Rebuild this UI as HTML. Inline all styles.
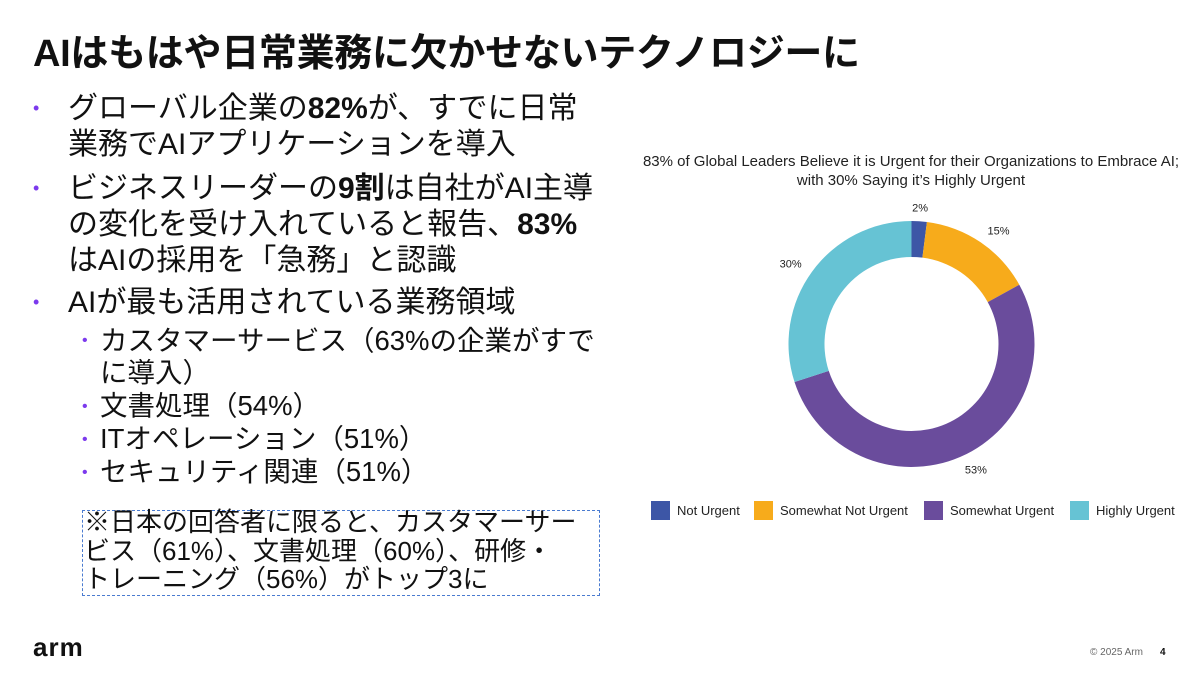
<!DOCTYPE html>
<html><head><meta charset="utf-8"><style>
body{margin:0;width:1200px;height:675px;background:#fff;position:relative;overflow:hidden;font-family:"Liberation Sans","Noto Sans CJK JP",sans-serif;color:#111}
.a{position:absolute;white-space:nowrap}
.t{font-size:38px;font-weight:bold;left:33px;top:22px;letter-spacing:-0.3px}
.l{font-size:30px;left:68px;line-height:36px}
.b{position:absolute;left:33px;font-size:18px;color:#7c3aed}
.s{font-size:27.5px;left:100px;line-height:32px}
.sb{position:absolute;left:82px;font-size:16px;color:#7c3aed}
</style></head><body>
<div class="a t">AIはもはや日常業務に欠かせないテクノロジーに</div>
<div class="b" style="top:98px">•</div>
<div class="a l" style="top:91px">グローバル企業の<b>82%</b>が、すでに日常<br>業務でAIアプリケーションを導入</div>
<div class="b" style="top:178px">•</div>
<div class="a l" style="top:171px">ビジネスリーダーの<b>9割</b>は自社がAI主導<br>の変化を受け入れていると報告、<b>83%</b><br>はAIの採用を「急務」と認識</div>
<div class="b" style="top:292px">•</div>
<div class="a l" style="top:285px">AIが最も活用されている業務領域</div>
<div class="sb" style="top:332px">•</div>
<div class="a s" style="top:325px">カスタマーサービス（63%の企業がすで<br>に導入）</div>
<div class="sb" style="top:398px">•</div>
<div class="a s" style="top:390px">文書処理（54%）</div>
<div class="sb" style="top:431px">•</div>
<div class="a s" style="top:423px">ITオペレーション（51%）</div>
<div class="sb" style="top:464px">•</div>
<div class="a s" style="top:456px">セキュリティ関連（51%）</div>
<div class="a" style="left:82px;top:510px;width:516px;height:84px;border:1px dashed #4a7bd0"></div>
<div class="a" style="left:84px;top:508px;font-size:26px;line-height:28.5px">※日本の回答者に限ると、カスタマーサー<br>ビス（61%）、文書処理（60%）、研修・<br>トレーニング（56%）がトップ3に</div>
<div class="a" style="left:33px;top:632px;font-size:26px;font-weight:bold;letter-spacing:1px">arm</div>
<div class="a" style="left:1090px;top:647px;font-size:10px;color:#666">© 2025 Arm</div>
<div class="a" style="left:1160px;top:647px;font-size:10px;font-weight:bold">4</div>
<svg id="c" class="a" style="left:0;top:0" width="1200" height="675">
<text x="911" y="166" text-anchor="middle" font-size="15" fill="#222">83% of Global Leaders Believe it is Urgent for their Organizations to Embrace AI;</text>
<text x="911" y="185" text-anchor="middle" font-size="15" fill="#222">with 30% Saying it’s Highly Urgent</text>
</svg>
<script>
const categories=["Not Urgent","Somewhat Not Urgent","Somewhat Urgent","Highly Urgent"];
const values=[2,15,53,30];
const labels=["2%","15%","53%","30%"];
const colors=["#3d56a6","#f7ab1b","#6a4c9c","#66c3d4"];
const svg=document.getElementById('c');const NS='http://www.w3.org/2000/svg';
const cx=911.5,cy=344,R=123,r=87;
const total=values.reduce((a,b)=>a+b,0);
function pt(a,rad){return[cx+rad*Math.sin(a),cy-rad*Math.cos(a)];}
let acc=0;
values.forEach((v,i)=>{
 const a0=acc/total*2*Math.PI;acc+=v;const a1=acc/total*2*Math.PI;
 const lg=(a1-a0)>Math.PI?1:0;
 const p1=pt(a0,R),p2=pt(a1,R),p3=pt(a1,r),p4=pt(a0,r);
 const p=document.createElementNS(NS,'path');
 p.setAttribute('d',`M${p1}A${R},${R} 0 ${lg} 1 ${p2}L${p3}A${r},${r} 0 ${lg} 0 ${p4}Z`);
 p.setAttribute('fill',colors[i]);
 
 
 svg.appendChild(p);
 const am=(a0+a1)/2;const lp=pt(am,R+14);
 const t=document.createElementNS(NS,'text');
 t.setAttribute('x',lp[0]+(Math.sin(am)>0.2?10:Math.sin(am)<-0.2?-10:0));t.setAttribute('y',lp[1]+4);
 t.setAttribute('text-anchor','middle');t.setAttribute('font-size','11');t.setAttribute('fill','#222');
 t.textContent=labels[i];
 
 
 svg.appendChild(t);
});
const lx=[651,754,924,1070];
categories.forEach((c,i)=>{
 const g=document.createElementNS(NS,'g');
 
 
 const rc=document.createElementNS(NS,'rect');
 rc.setAttribute('x',lx[i]);rc.setAttribute('y',501);rc.setAttribute('width',19);rc.setAttribute('height',19);rc.setAttribute('fill',colors[i]);
 g.appendChild(rc);
 const t=document.createElementNS(NS,'text');
 t.setAttribute('x',lx[i]+26);t.setAttribute('y',515);t.setAttribute('font-size','13');t.setAttribute('fill','#222');
 t.textContent=c;g.appendChild(t);svg.appendChild(g);
});
</script>
</body></html>
